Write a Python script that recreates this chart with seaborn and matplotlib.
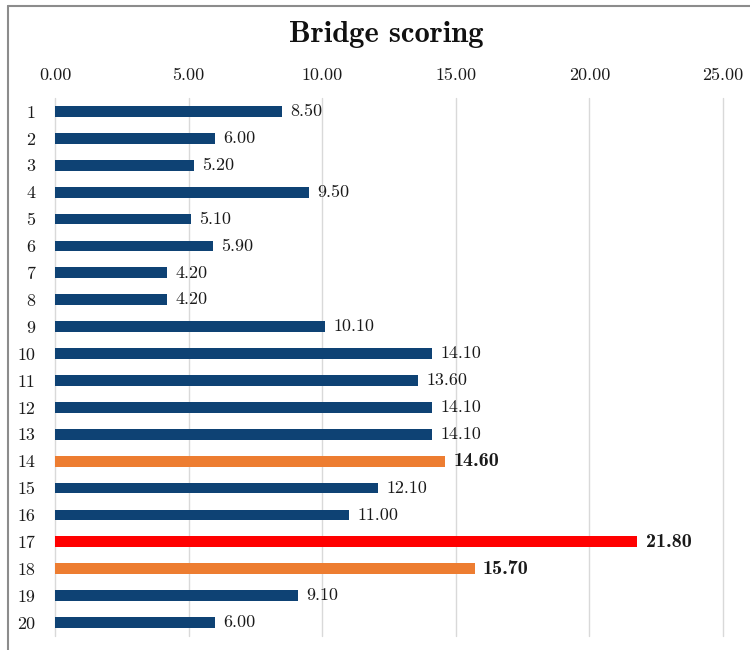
import matplotlib
matplotlib.use("Agg")
import matplotlib.pyplot as plt
from matplotlib.lines import Line2D
from matplotlib.ticker import FixedLocator, StrMethodFormatter
import seaborn as sns
import pandas as pd

# Scores per bridge
bridges = [str(i) for i in range(1, 21)]
scores = [8.50, 6.00, 5.20, 9.50, 5.10, 5.90, 4.20, 4.20, 10.10, 14.10,
          13.60, 14.10, 14.10, 14.60, 12.10, 11.00, 21.80, 15.70, 9.10, 6.00]
# Highlight class of each bridge
levels = ["normal"] * 13 + ["high", "normal", "normal", "max", "high", "normal", "normal"]
x_ticks = [0, 5, 10, 15, 20, 25]

palette = {"normal": "#0E4274", "high": "#ED7D31", "max": "#FF0000"}

sns.set_theme(style="white")
plt.rcParams["font.family"] = ["cmr10", "DejaVu Serif"]
plt.rcParams["axes.formatter.use_mathtext"] = True

df = pd.DataFrame({"bridge": bridges, "score": scores, "level": levels})

fig = plt.figure(figsize=(7.5, 6.5), dpi=100)
ax = fig.add_axes([55 / 750, 1 - 636 / 650, (723 - 55) / 750, (636 - 98) / 650])

sns.barplot(data=df, x="score", y="bridge", hue="level", palette=palette,
            order=bridges, dodge=False, width=0.4, orient="h", saturation=1,
            legend=False, linewidth=0, ax=ax, zorder=3)

ax.set_xlim(0, 25)
ax.set_ylim(19.5, -0.5)
ax.xaxis.set_major_locator(FixedLocator(x_ticks))
ax.xaxis.set_major_formatter(StrMethodFormatter("{x:.2f}"))
ax.xaxis.tick_top()
ax.tick_params(axis="x", length=0, pad=11, labelsize=13, labelcolor="#1a1a1a")
ax.tick_params(axis="y", length=0, pad=14, labelsize=13, labelcolor="#1a1a1a")
ax.set_xlabel("")
ax.set_ylabel("")
ax.grid(axis="x", color="#d9d9d9", linewidth=1, zorder=0)
ax.grid(axis="y", visible=False)
for gl in ax.get_xgridlines():
    gl.set_clip_on(False)
for s in ax.spines.values():
    s.set_visible(False)

for i, (v, lvl) in enumerate(zip(scores, levels)):
    bold = lvl != "normal"
    ax.annotate(f"{v:.2f}", xy=(v, i), xytext=(6, 0), textcoords="offset points",
                va="center", ha="left", fontsize=14.5 if bold else 13,
                color="#1a1a1a", family="cmb10" if bold else "cmr10")

fig.text(0.515, 1 - 34 / 650, "Bridge scoring", ha="center", va="center",
         fontsize=22, family="cmb10", color="#111111")

# Frame lines along the top and left edge
fig.add_artist(Line2D([8 / 750, 1], [1 - 5.5 / 650] * 2, transform=fig.transFigure,
                      color="#8c8c8c", linewidth=1.5))
fig.add_artist(Line2D([8 / 750] * 2, [0, 1 - 5.5 / 650], transform=fig.transFigure,
                      color="#8c8c8c", linewidth=1.5))

fig.savefig("out.png", dpi=100)
